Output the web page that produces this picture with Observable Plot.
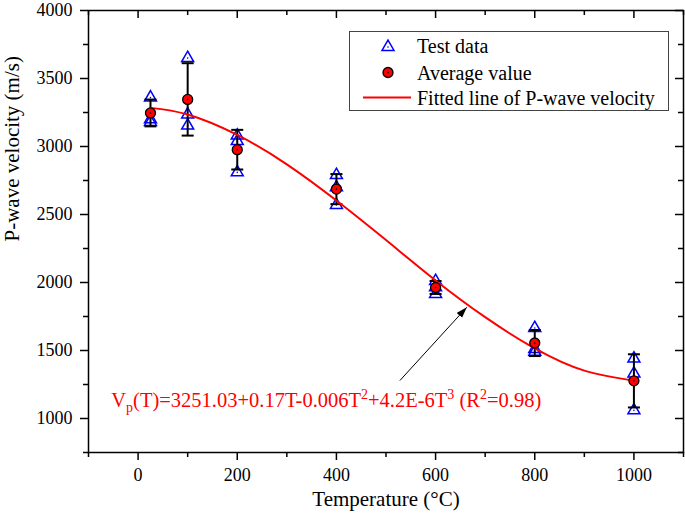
<!DOCTYPE html>
<html><head><meta charset="utf-8">
<script src="https://cdn.jsdelivr.net/npm/d3@7"></script>
<script src="https://cdn.jsdelivr.net/npm/@observablehq/plot@0.6"></script>
<style>
body{margin:0;background:#fff;}
#chart{position:relative;width:685px;height:519px;overflow:hidden;}
#chart svg{display:block;}
#legend{position:absolute;left:0;top:0;pointer-events:none;}
</style></head><body><div id="chart"></div>
<script>
// ---- data ----
const temperatures = [25, 100, 200, 400, 600, 800, 1000];
const testRun1 = [3360, 3650, 3080, 2790, 2010, 1665, 1440];
const testRun2 = [3200, 3235, 3040, 2700, 1965, 1510, 1330];
const testRun3 = [3180, 3154, 2810, 2570, 1915, 1490, 1060];
const fitTemperatures = [25, 100, 200, 300, 400, 500, 600, 700, 800, 900, 1000];
const fitVelocities = [3284, 3235, 3085, 2869, 2603, 2312, 2015, 1745, 1516, 1352, 1279];
const xMajorTicks = [0, 200, 400, 600, 800, 1000];
const xMinorTicks = [-100, 100, 300, 500, 700, 900, 1100];
const yMajorTicks = [1000, 1500, 2000, 2500, 3000, 3500, 4000];
const yMinorTicks = [750, 1250, 1750, 2250, 2750, 3250, 3750];
const legendLabels = ["Test data", "Average value", "Fitted line of P-wave velocity"];
const xTitle = "Temperature (\u00B0C)";
const yTitle = "P-wave velocity (m/s)";
const equationParts = [["V",""],["p","sub"],["(T)=3251.03+0.17T-0.006T",""],["2","sup"],["+4.2E-6T",""],["3","sup"],[" (R",""],["2","sup"],["=0.98)",""]];
const equationText = equationParts.map(p => p[0]).join("");
const equationAnchor = [{t: -54, v: 1132}];
const arrowAnnotation = [{t1: 528, v1: 1279, t2: 663, v2: 1818}];

// ---- derived tables ----
const tests = temperatures.flatMap((t, i) => [testRun1[i], testRun2[i], testRun3[i]].map(v => ({t, v})));
const stats = temperatures.map((t, i) => {
  const vs = [testRun1[i], testRun2[i], testRun3[i]];
  return {t, mean: d3.mean(vs), sd: d3.deviation(vs)};
});
const fit = fitTemperatures.map((t, i) => ({t, v: fitVelocities[i]}));

const W = 685, H = 519, mL = 88, mR = 2, mT = 10, mB = 67;
const innerW = W - mL - mR, innerH = H - mT - mB;
const serif = "'Liberation Serif','Times New Roman',Times,serif";
const BLUE = "#0000ff", RED = "#ff0000";
const capSymbol = {draw(ctx, size) { const w = Math.sqrt(size) / 2; ctx.moveTo(-w, 0); ctx.lineTo(w, 0); }};
const fmt = d3.format("d");

const plot = Plot.plot({
  width: W, height: H,
  marginLeft: mL, marginRight: mR, marginTop: mT, marginBottom: mB,
  style: {fontFamily: serif, fontSize: "18px", color: "black", background: "white"},
  x: {domain: [-100, 1100]},
  y: {domain: [750, 4000]},
  marks: [
    Plot.axisX({ticks: xMajorTicks, anchor: "bottom", tickSize: 8, tickPadding: 8, tickFormat: fmt, label: null, fontSize: 18, strokeWidth: 1.5}),
    Plot.axisX({ticks: xMinorTicks, anchor: "bottom", tickSize: 5, tickFormat: () => "", label: null, strokeWidth: 1.5}),
    Plot.axisY({ticks: yMajorTicks, anchor: "left", tickSize: 8, tickPadding: 8, tickFormat: fmt, label: null, fontSize: 18, strokeWidth: 1.5}),
    Plot.axisY({ticks: yMinorTicks, anchor: "left", tickSize: 5, tickFormat: () => "", label: null, strokeWidth: 1.5}),
    Plot.ruleX(xMajorTicks, {x: d => d, insetBottom: innerH - 8, stroke: "black", strokeWidth: 1.5}),
    Plot.ruleX(xMinorTicks, {x: d => d, insetBottom: innerH - 5, stroke: "black", strokeWidth: 1.5}),
    Plot.ruleY(yMajorTicks, {y: d => d, insetLeft: innerW - 8, stroke: "black", strokeWidth: 1.5}),
    Plot.ruleY(yMinorTicks, {y: d => d, insetLeft: innerW - 5, stroke: "black", strokeWidth: 1.5}),
    Plot.frame({stroke: "black", strokeWidth: 1.5}),
    // test data triangles
    Plot.dot(tests, {x: "t", y: "v", symbol: "triangle", r: 4.45, stroke: BLUE, strokeWidth: 1.5, fill: "none"}),
    Plot.dot(tests, {x: "t", y: "v", r: 0.8, fill: BLUE, stroke: "none"}),
    // error bars
    Plot.ruleX(stats, {x: "t", y1: d => d.mean - d.sd, y2: d => d.mean + d.sd, stroke: "black", strokeWidth: 2}),
    Plot.dot(stats, {x: "t", y: d => d.mean + d.sd, symbol: capSymbol, r: 6.77, stroke: "black", strokeWidth: 2, fill: "none"}),
    Plot.dot(stats, {x: "t", y: d => d.mean - d.sd, symbol: capSymbol, r: 6.77, stroke: "black", strokeWidth: 2, fill: "none"}),
    // fitted curve
    Plot.line(fit, {x: "t", y: "v", stroke: RED, strokeWidth: 2, curve: "natural"}),
    // averages
    Plot.dot(stats, {x: "t", y: "mean", r: 5, fill: RED, stroke: "black", strokeWidth: 1.3}),
    Plot.dot(stats, {x: "t", y: "mean", r: 0.8, fill: "black", stroke: "none"}),
    // annotation
    Plot.link(arrowAnnotation, {x1: "t1", y1: "v1", x2: "t2", y2: "v2", stroke: "black", strokeWidth: 1}),
    Plot.text(equationAnchor, {x: "t", y: "v", text: () => equationText, textAnchor: "start", fill: RED, fontSize: 20.5}),
    // axis titles
    Plot.text([xTitle], {frameAnchor: "bottom", dy: 53, fontSize: 21, fill: "black"}),
    Plot.text([yTitle], {frameAnchor: "left", dx: -76, dy: 10, rotate: -90, fontSize: 21, fill: "black"})
  ]
});

const chart = document.getElementById("chart");
chart.appendChild(plot);
const svg = d3.select(plot);

// subscripts / superscripts in the equation
svg.selectAll("text").filter(function() { return this.textContent === equationText; }).each(function() {
  const t = d3.select(this);
  t.text(null);
  let prevShift = 0;
  equationParts.forEach(([s, kind]) => {
    const sp = t.append("tspan").text(s);
    const shift = kind === "sub" ? 5 : kind === "sup" ? -8 : 0;
    if (kind) sp.attr("font-size", 14);
    sp.attr("dy", shift - prevShift);
    prevShift = shift;
  });
});

// filled arrow head
const defs = svg.append("defs");
defs.append("marker").attr("id", "fillArrow").attr("viewBox", "0 -4 11 8")
  .attr("refX", 11).attr("refY", 0).attr("markerWidth", 11).attr("markerHeight", 8)
  .attr("markerUnits", "userSpaceOnUse").attr("orient", "auto")
  .append("path").attr("d", "M0,-3.6L11,0L0,3.6Z").attr("fill", "black");
svg.selectAll("g[aria-label='link'] path").attr("marker-end", "url(#fillArrow)");

// legend overlay
const lg = d3.select(chart).append("svg").attr("id", "legend").attr("width", W).attr("height", H)
  .style("font-family", serif).style("font-size", "20px");
lg.append("rect").attr("x", 349.5).attr("y", 31.5).attr("width", 319).attr("height", 79)
  .attr("fill", "white").attr("stroke", "#444").attr("stroke-width", 1);
const symX = 388, textX = 417, rowY = [45.5, 72.5, 97.5];
lg.append("path").attr("transform", `translate(${symX},${rowY[0] + 1.5})`)
  .attr("d", d3.symbol(d3.symbolTriangle, 62.35)()).attr("fill", "none").attr("stroke", BLUE).attr("stroke-width", 1.5);
lg.append("circle").attr("cx", symX).attr("cy", rowY[0] + 1.5).attr("r", 0.8).attr("fill", BLUE);
lg.append("circle").attr("cx", symX).attr("cy", rowY[1]).attr("r", 5).attr("fill", RED).attr("stroke", "black").attr("stroke-width", 1.3);
lg.append("circle").attr("cx", symX).attr("cy", rowY[1]).attr("r", 0.8).attr("fill", "black");
lg.append("line").attr("x1", 363).attr("x2", 411).attr("y1", rowY[2]).attr("y2", rowY[2]).attr("stroke", RED).attr("stroke-width", 2);
legendLabels.forEach((s, i) => {
  lg.append("text").attr("x", textX).attr("y", rowY[i] + 7).attr("fill", "black").text(s);
});
</script>
</body></html>
